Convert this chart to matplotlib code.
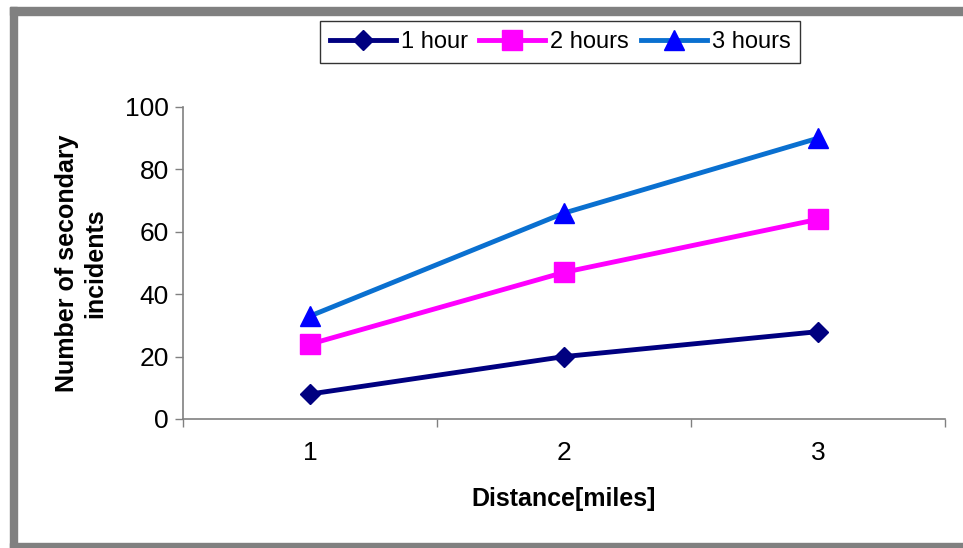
import numpy as np
import matplotlib.pyplot as plt
from matplotlib.patches import Rectangle

plt.rcParams['font.family'] = ['Liberation Sans', 'DejaVu Sans']

distance = [1, 2, 3]
dist_labels = ['1', '2', '3']
one_hour = [8, 20, 28]
two_hours = [24, 47, 64]
three_hours = [33, 66, 90]

fig = plt.figure(figsize=(9.63, 5.48), dpi=100)
ax = fig.add_axes([183 / 963, 1 - 419 / 548, (945 - 183) / 963, (419 - 107) / 548])

ax.plot(distance, one_hour, color='#000080', lw=3.5, marker='D', ms=10,
        mfc='#000080', mec='#000080', label='1 hour')
ax.plot(distance, two_hours, color='#FF00FF', lw=3.5, marker='s', ms=14,
        mfc='#FF00FF', mec='#FF00FF', label='2 hours')
ax.plot(distance, three_hours, color='#0A70D0', lw=3.5, marker='^', ms=15,
        mfc='#0000FF', mec='#0000FF', label='3 hours')

ax.set_xlim(0.5, 3.5)
ax.set_ylim(0, 100)
ax.set_yticks(np.arange(0, 101, 20))
ax.set_xticks([0.5, 1.5, 2.5, 3.5])
ax.set_xticklabels([])
ax.set_xticks(distance, minor=True)
ax.set_xticklabels(dist_labels, minor=True)
ax.tick_params(axis='x', which='minor', length=0, pad=16, labelsize=19)
ax.tick_params(axis='x', which='major', length=6, color='#808080', width=1)
ax.tick_params(axis='y', length=6, color='#808080', width=1, labelsize=19, pad=4)

for s in ['top', 'right']:
    ax.spines[s].set_visible(False)
for s in ['left', 'bottom']:
    ax.spines[s].set_color('#808080')
    ax.spines[s].set_linewidth(1.2)

ax.set_xlabel('Distance[miles]', fontsize=18, fontweight='bold', labelpad=16)
ax.set_ylabel('Number of secondary\nincidents', fontsize=18, fontweight='bold',
              labelpad=13, linespacing=1.2)

leg = fig.legend(loc='center', bbox_to_anchor=(560 / 963, 1 - 42 / 548), ncol=3,
                 fontsize=17, frameon=True, fancybox=False, handlelength=2.8,
                 handletextpad=0.2, columnspacing=0.5, borderpad=0.42,
                 borderaxespad=0)
leg.get_frame().set_edgecolor('black')
leg.get_frame().set_linewidth(1)

# gray outer frame (top, left, bottom)
fig.patches.append(Rectangle((10 / 963, 1 - 15 / 548), 1, 8 / 548,
                             transform=fig.transFigure, color='#808080'))
fig.patches.append(Rectangle((10 / 963, 0), 7 / 963, 1 - 7 / 548,
                             transform=fig.transFigure, color='#808080'))
fig.patches.append(Rectangle((10 / 963, 0), 1, 5 / 548,
                             transform=fig.transFigure, color='#808080'))

fig.savefig('out.png', dpi=100)
